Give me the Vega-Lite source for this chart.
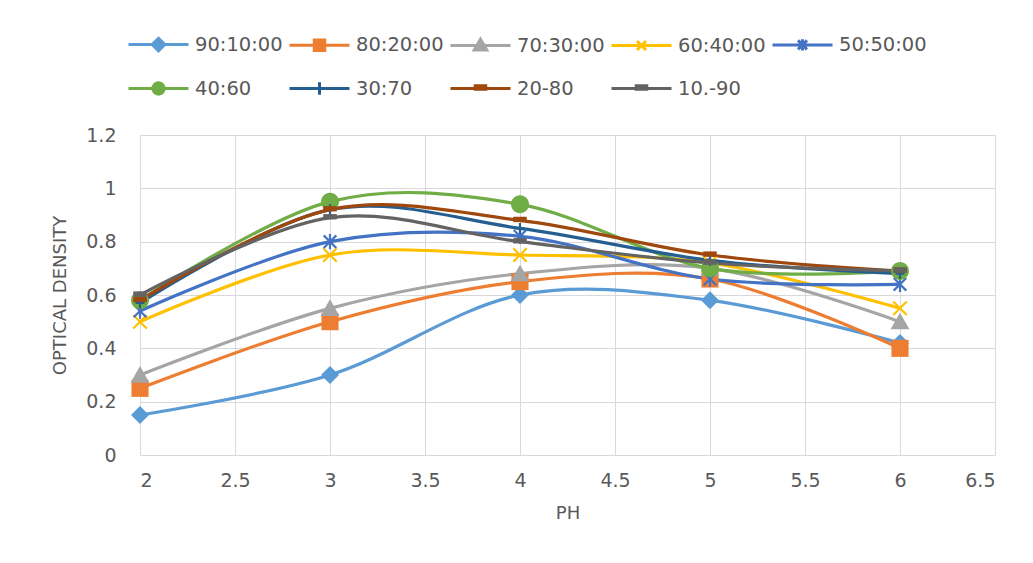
{
  "$schema": "https://vega.github.io/schema/vega-lite/v6.json",
  "width": 855,
  "height": 320,
  "autosize": "none",
  "padding": {"left": 140, "top": 135, "right": 38, "bottom": 108},
  "background": "white",
  "config": {
    "view": {"stroke": null},
    "font": "DejaVu Sans",
    "point": {"size": 324, "opacity": 1},
    "axis": {
      "gridColor": "#D9D9D9",
      "gridWidth": 1,
      "domain": false,
      "ticks": false,
      "tickSize": 0,
      "labelFont": "DejaVu Sans",
      "labelFontSize": 19,
      "labelColor": "#595959",
      "titleFont": "DejaVu Sans",
      "titleFontSize": 18,
      "titleFontWeight": "normal",
      "titleColor": "#595959"
    }
  },
  "data": {
    "values": [
      {"series": "90:10:00", "ph": 2, "od": 0.15},
      {"series": "90:10:00", "ph": 3, "od": 0.30},
      {"series": "90:10:00", "ph": 4, "od": 0.60},
      {"series": "90:10:00", "ph": 5, "od": 0.58},
      {"series": "90:10:00", "ph": 6, "od": 0.42},
      {"series": "80:20:00", "ph": 2, "od": 0.25},
      {"series": "80:20:00", "ph": 3, "od": 0.50},
      {"series": "80:20:00", "ph": 4, "od": 0.65},
      {"series": "80:20:00", "ph": 5, "od": 0.66},
      {"series": "80:20:00", "ph": 6, "od": 0.40},
      {"series": "70:30:00", "ph": 2, "od": 0.30},
      {"series": "70:30:00", "ph": 3, "od": 0.55},
      {"series": "70:30:00", "ph": 4, "od": 0.68},
      {"series": "70:30:00", "ph": 5, "od": 0.70},
      {"series": "70:30:00", "ph": 6, "od": 0.50},
      {"series": "60:40:00", "ph": 2, "od": 0.50},
      {"series": "60:40:00", "ph": 3, "od": 0.75},
      {"series": "60:40:00", "ph": 4, "od": 0.75},
      {"series": "60:40:00", "ph": 5, "od": 0.72},
      {"series": "60:40:00", "ph": 6, "od": 0.55},
      {"series": "50:50:00", "ph": 2, "od": 0.54},
      {"series": "50:50:00", "ph": 3, "od": 0.80},
      {"series": "50:50:00", "ph": 4, "od": 0.82},
      {"series": "50:50:00", "ph": 5, "od": 0.66},
      {"series": "50:50:00", "ph": 6, "od": 0.64},
      {"series": "40:60", "ph": 2, "od": 0.58},
      {"series": "40:60", "ph": 3, "od": 0.95},
      {"series": "40:60", "ph": 4, "od": 0.94},
      {"series": "40:60", "ph": 5, "od": 0.70},
      {"series": "40:60", "ph": 6, "od": 0.69},
      {"series": "30:70", "ph": 2, "od": 0.57},
      {"series": "30:70", "ph": 3, "od": 0.92},
      {"series": "30:70", "ph": 4, "od": 0.85},
      {"series": "30:70", "ph": 5, "od": 0.73},
      {"series": "30:70", "ph": 6, "od": 0.68},
      {"series": "20-80", "ph": 2, "od": 0.58},
      {"series": "20-80", "ph": 3, "od": 0.92},
      {"series": "20-80", "ph": 4, "od": 0.88},
      {"series": "20-80", "ph": 5, "od": 0.75},
      {"series": "20-80", "ph": 6, "od": 0.69},
      {"series": "10.-90", "ph": 2, "od": 0.60},
      {"series": "10.-90", "ph": 3, "od": 0.89},
      {"series": "10.-90", "ph": 4, "od": 0.80},
      {"series": "10.-90", "ph": 5, "od": 0.72},
      {"series": "10.-90", "ph": 6, "od": 0.69}
    ]
  },
  "encoding": {
    "x": {
      "field": "ph",
      "type": "quantitative",
      "scale": {"domain": [2, 6.5], "nice": false, "zero": false},
      "axis": {
        "title": "PH",
        "values": [2, 2.5, 3, 3.5, 4, 4.5, 5, 5.5, 6, 6.5],
        "labelExpr": "toString(datum.value)",
        "labelPadding": 16,
        "titlePadding": 14
      }
    },
    "y": {
      "field": "od",
      "type": "quantitative",
      "scale": {"domain": [0, 1.2], "nice": false},
      "axis": {
        "title": "OPTICAL DENSITY",
        "values": [0, 0.2, 0.4, 0.6, 0.8, 1, 1.2],
        "format": "~g",
        "labelPadding": 24,
        "titlePadding": 16
      }
    },
    "color": {"field": "series", "type": "nominal", "sort": null}
  },
  "layer": [
    {
      "mark": {"type": "line", "interpolate": "cardinal", "tension": 0, "strokeWidth": 3.2},
      "encoding": {
        "color": {
          "field": "series",
          "type": "nominal",
          "sort": null,
          "scale": {
            "domain": ["90:10:00", "80:20:00", "70:30:00", "60:40:00", "50:50:00", "40:60", "30:70", "20-80", "10.-90"],
            "range": ["#5B9BD5", "#ED7D31", "#A5A5A5", "#FFC000", "#4472C4", "#70AD47", "#255E91", "#9E480E", "#636363"]
          },
          "legend": {
            "title": null,
            "orient": "none",
            "legendX": 2,
            "legendY": -107,
            "direction": "horizontal",
            "columns": 5,
            "gridAlign": "all",
            "padding": 0,
            "columnPadding": 0,
            "rowPadding": 15,
            "symbolSize": 900,
            "symbolStrokeWidth": 3,
            "labelOffset": 20,
            "labelFont": "DejaVu Sans",
            "labelFontSize": 19.5,
            "labelColor": "#595959",
            "labelLimit": 200,
            "encode": {
              "symbols": {
                "update": {
                  "shape": {"signal": "({'90:10:00':'M-2,0H2M0,-0.42L0.42,0L0,0.42L-0.42,0Z','80:20:00':'M-2,0H2M-0.35,-0.35H0.35V0.35H-0.35Z','70:30:00':'M-2,0H2M0,-0.42L0.42,0.3H-0.42Z','60:40:00':'M-2,0H2M-0.3,-0.3L0.3,0.3M-0.3,0.3L0.3,-0.3','50:50:00':'M-2,0H2M-0.3,-0.3L0.3,0.3M-0.3,0.3L0.3,-0.3M0,-0.38V0.38','40:60':'M-2,0H2M0.38,0A0.38,0.38,0,1,1,-0.38,0A0.38,0.38,0,1,1,0.38,0Z','30:70':'M-2,0H2M0,-0.42V0.42','20-80':'M-2,0H2M-0.35,-0.18H0.35V0.05H-0.35Z','10.-90':'M-2,0H2M-0.35,-0.18H0.35V0.05H-0.35Z'})[datum.value]"},
                  "fill": {"signal": "scale('color', datum.value)"},
                  "stroke": {"signal": "scale('color', datum.value)"},
                  "strokeWidth": {"value": 3},
                  "opacity": {"value": 1},
                  "fillOpacity": {"value": 1}
                }
              }
            }
          }
        }
      }
    },
    {
      "transform": [{"filter": {"field": "series", "equal": "90:10:00"}}],
      "mark": {"type": "point", "filled": true, "shape": "M0,-1L1,0L0,1L-1,0Z"}
    },
    {
      "transform": [{"filter": {"field": "series", "equal": "80:20:00"}}],
      "mark": {"type": "point", "filled": true, "shape": "M-0.95,-0.95H0.95V0.95H-0.95Z"}
    },
    {
      "transform": [{"filter": {"field": "series", "equal": "70:30:00"}}],
      "mark": {"type": "point", "filled": true, "shape": "M0,-1L1.05,0.85H-1.05Z"}
    },
    {
      "transform": [{"filter": {"field": "series", "equal": "60:40:00"}}],
      "mark": {"type": "point", "filled": false, "strokeWidth": 2.2, "shape": "M-0.75,-0.75L0.75,0.75M-0.75,0.75L0.75,-0.75"}
    },
    {
      "transform": [{"filter": {"field": "series", "equal": "50:50:00"}}],
      "mark": {"type": "point", "filled": false, "strokeWidth": 2.2, "shape": "M-0.7,-0.7L0.7,0.7M-0.7,0.7L0.7,-0.7M0,-0.85V0.85"}
    },
    {
      "transform": [{"filter": {"field": "series", "equal": "40:60"}}],
      "mark": {"type": "point", "filled": true, "shape": "M1,0A1,1,0,1,1,-1,0A1,1,0,1,1,1,0Z"}
    },
    {
      "transform": [{"filter": {"field": "series", "equal": "30:70"}}],
      "mark": {"type": "point", "filled": false, "strokeWidth": 2.2, "shape": "M-0.5,0H0.5M0,-0.6V0.6"}
    },
    {
      "transform": [{"filter": {"field": "series", "oneOf": ["20-80", "10.-90"]}}],
      "mark": {"type": "point", "filled": true, "shape": "M-0.75,-0.4H0.75V0.2H-0.75Z"}
    }
  ]
}
